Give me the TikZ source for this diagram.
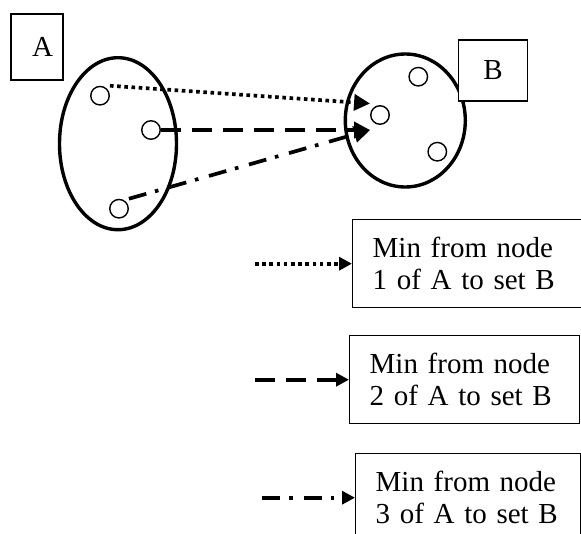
\documentclass[tikz,border=0pt]{standalone}
\usepackage{fontspec}
\setmainfont{Liberation Serif}
\usetikzlibrary{positioning}
\usetikzlibrary{shapes.geometric}
\usetikzlibrary{arrows.meta}
\newcommand\diagfont{\fontsize{29}{32}\selectfont\spaceskip=0.19em plus 0.05em minus 0.02em\relax}

\begin{document}
\begin{tikzpicture}[x=1pt,y=-1pt
  ,every node/.style={font=\diagfont}
  ,setline/.style={draw,ellipse,line width=3.4pt,inner sep=0pt}
  ,pt/.style={draw,circle,line width=1.4pt,minimum size=18.5pt,inner sep=0pt}
  ,namebox/.style={draw,fill=white,line width=1.4pt}
  ,keybox/.style={draw,line width=1.4pt,anchor=north west,align=left,inner xsep=20pt,minimum height=88pt}
  ,link/.style={line width=3.7pt,-{Triangle[length=16pt,width=16pt]}}
  ,keytip/.style={-{Triangle[length=13pt,width=13pt]}}
  ,dots/.style={link,dash pattern=on 3.6pt off 3.6pt}
  ,dashes/.style={link,dash pattern=on 20pt off 11pt}
  ,dashdot/.style={link,dash pattern=on 18pt off 9pt on 3.6pt off 11pt}
  ]
\useasboundingbox (0,0) rectangle (581,533);

% the two sets
\node[setline,minimum width=117pt,minimum height=172pt] (setA) at (118,143.7) {};
\node[setline,minimum width=120pt,minimum height=133pt] (setB) at (405.3,120.5) {};
\node[namebox,minimum width=52pt,minimum height=66pt,text width=32pt,inner xsep=10pt,align=right] (nameA) at (37,47) {A};
\node[namebox,minimum width=69pt,minimum height=61pt] (nameB) at (493,70.5) {B};

\node[pt] (a1) at (100,95.7) {};
\node[pt] (a2) at (151,130) {};
\node[pt] (a3) at (119,208.7) {};
\node[pt] (b1) at (418.3,76.7) {};
\node[pt] (b2) at (380,115) {};
\node[pt] (b3) at (437.3,151.7) {};

\coordinate (tipdot) at ([yshift=11.5pt]b2.west);
\coordinate (tipdash) at (b2.west |- a2.east);
\draw[dots] (a1.north -| a1.east) -- (tipdot);
\draw[dashes] (a2.east) -- (tipdash);
\draw[dashdot] (a3.north -| a3.east) -- (tipdash);

% key
\node[keybox,text width=192pt] (key1) at (352,219) {Min from node\\1 of A to set B};
\node[keybox,text width=190pt] (key2) at (349,335) {Min from node\\2 of A to set B};
\node[keybox,text width=185pt] (key3) at (355,453) {Min from node\\3 of A to set B};

\coordinate[left=97pt of key1.west] (from1);
\coordinate[left=94pt of key2.west] (from2);
\coordinate[left=93pt of key3.west] (from3);
\draw[dots,keytip] (from1) -- (key1.west);
\draw[dashes,keytip] (from2) -- (key2.west);
\draw[dashdot,keytip] (from3) -- (key3.west);
\end{tikzpicture}
\end{document}
